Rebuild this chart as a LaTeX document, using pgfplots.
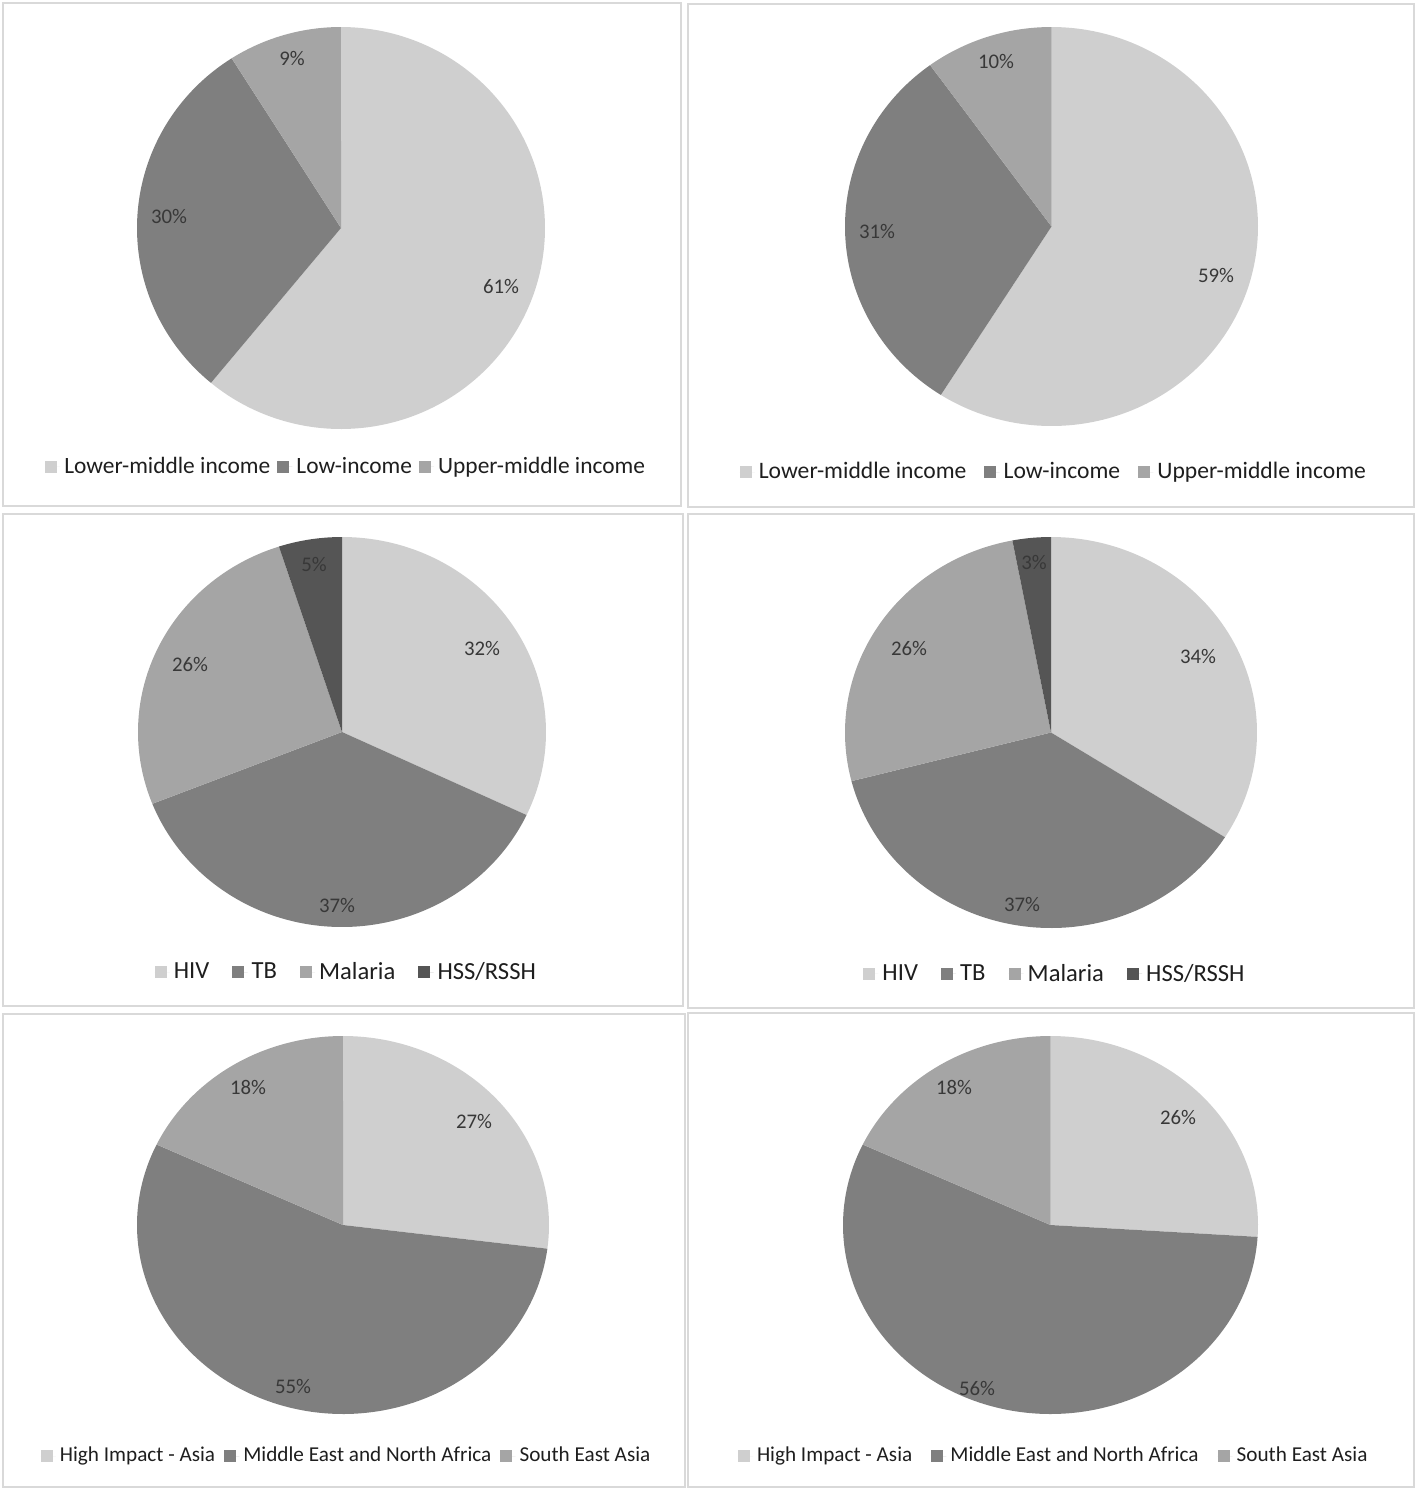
\documentclass[border=0pt]{standalone}
\usepackage{pgfplots}
\pgfplotsset{compat=1.18}
\usepackage{fontspec}
\setmainfont{Carlito}
\definecolor{cA}{HTML}{CFCFCF}
\definecolor{cB}{HTML}{7F7F7F}
\definecolor{cC}{HTML}{A5A5A5}
\definecolor{cD}{HTML}{555555}
\definecolor{lbl}{HTML}{383838}
\definecolor{legtxt}{HTML}{1E1E1E}
\definecolor{frm}{HTML}{D9D9D9}
\pgfplotsset{
  pie/.style 2 args={hide axis, xmin=-1, xmax=1, ymin=-1, ymax=1, anchor=origin, clip=false,
    legend columns=-1,
    legend style={draw=none, fill=none, font=\fontsize{#2}{14}\selectfont, text=legtxt, anchor=center,
      /tikz/every even column/.append style={column sep=#1}},
    legend image code/.code={\fill[##1] (0pt,-3pt) rectangle (6pt,3pt); \path (0pt,0pt) -- (7.6pt,0pt);},
  },
  wedge/.style={fill=#1, draw=none, samples=150},
}
\begin{document}
\begin{tikzpicture}
\begin{scope}[x=0.5pt, y=-0.5pt]
  \path (0,0) rectangle (1418,1490);
  \begin{scope}[frm, line width=1.1pt]
    \draw (3,3) rectangle (681,506);
    \draw (688,4) rectangle (1414,507);
    \draw (3,514) rectangle (683,1006);
    \draw (688,514) rectangle (1414,1008);
    \draw (3,1014) rectangle (685,1487);
    \draw (688,1013) rectangle (1414,1487);
  \end{scope}
\end{scope}

% Pie 1
\begin{axis}[pie={1.5pt}{11.7}, at={(341*0.5pt,-228*0.5pt)}, x=102pt, y=100.5pt,
  legend style={at={(axis description cs:0.515,-0.0945)}}]
  \addplot[wedge=cA, domain=90:-129.6] ({cos(x)},{sin(x)}) -- (axis cs:0,0) -- cycle;
  \addlegendentry{Lower-middle income}
  \addplot[wedge=cB, domain=-129.6:-237.6] ({cos(x)},{sin(x)}) -- (axis cs:0,0) -- cycle;
  \addlegendentry{Low-income}
  \addplot[wedge=cC, domain=-237.6:-270] ({cos(x)},{sin(x)}) -- (axis cs:0,0) -- cycle;
  \addlegendentry{Upper-middle income}
\end{axis}

% Pie 2
\begin{axis}[pie={7pt}{11.8}, at={(1051.5*0.5pt,-226.5*0.5pt)}, x=103.25pt, y=99.75pt,
  legend style={at={(axis description cs:0.508,-0.1153)}}]
  \addplot[wedge=cA, domain=90:-122.4] ({cos(x)},{sin(x)}) -- (axis cs:0,0) -- cycle;
  \addlegendentry{Lower-middle income}
  \addplot[wedge=cB, domain=-122.4:-234] ({cos(x)},{sin(x)}) -- (axis cs:0,0) -- cycle;
  \addlegendentry{Low-income}
  \addplot[wedge=cC, domain=-234:-270] ({cos(x)},{sin(x)}) -- (axis cs:0,0) -- cycle;
  \addlegendentry{Upper-middle income}
\end{axis}

% Pie 3
\begin{axis}[pie={9.5pt}{12.3}, at={(342*0.5pt,-732*0.5pt)}, x=102pt, y=97.5pt,
  legend style={at={(axis description cs:0.513,-0.1154)}}]
  \addplot[wedge=cA, domain=90:-25.2] ({cos(x)},{sin(x)}) -- (axis cs:0,0) -- cycle;
  \addlegendentry{HIV}
  \addplot[wedge=cB, domain=-25.2:-158.4] ({cos(x)},{sin(x)}) -- (axis cs:0,0) -- cycle;
  \addlegendentry{TB}
  \addplot[wedge=cC, domain=-158.4:-252] ({cos(x)},{sin(x)}) -- (axis cs:0,0) -- cycle;
  \addlegendentry{Malaria}
  \addplot[wedge=cD, domain=-252:-270] ({cos(x)},{sin(x)}) -- (axis cs:0,0) -- cycle;
  \addlegendentry{HSS/RSSH}
\end{axis}

% Pie 4
\begin{axis}[pie={9.5pt}{12.3}, at={(1051*0.5pt,-732.5*0.5pt)}, x=103pt, y=97.75pt,
  legend style={at={(axis description cs:0.512,-0.1176)}}]
  \addplot[wedge=cA, domain=90:-32.4] ({cos(x)},{sin(x)}) -- (axis cs:0,0) -- cycle;
  \addlegendentry{HIV}
  \addplot[wedge=cB, domain=-32.4:-165.6] ({cos(x)},{sin(x)}) -- (axis cs:0,0) -- cycle;
  \addlegendentry{TB}
  \addplot[wedge=cC, domain=-165.6:-259.2] ({cos(x)},{sin(x)}) -- (axis cs:0,0) -- cycle;
  \addlegendentry{Malaria}
  \addplot[wedge=cD, domain=-259.2:-270] ({cos(x)},{sin(x)}) -- (axis cs:0,0) -- cycle;
  \addlegendentry{HSS/RSSH}
\end{axis}

% Pie 5
\begin{axis}[pie={2.5pt}{10.6}, at={(343*0.5pt,-1225*0.5pt)}, x=103pt, y=94.5pt,
  legend style={at={(axis description cs:0.511,-0.1111)}}]
  \addplot[wedge=cA, domain=90:-7.2] ({cos(x)},{sin(x)}) -- (axis cs:0,0) -- cycle;
  \addlegendentry{High Impact - Asia}
  \addplot[wedge=cB, domain=-7.2:-205.2] ({cos(x)},{sin(x)}) -- (axis cs:0,0) -- cycle;
  \addlegendentry{Middle East and North Africa}
  \addplot[wedge=cC, domain=-205.2:-270] ({cos(x)},{sin(x)}) -- (axis cs:0,0) -- cycle;
  \addlegendentry{South East Asia}
\end{axis}

% Pie 6
\begin{axis}[pie={7.5pt}{10.6}, at={(1050.5*0.5pt,-1225*0.5pt)}, x=103.75pt, y=94.5pt,
  legend style={at={(axis description cs:0.510,-0.1111)}}]
  \addplot[wedge=cA, domain=90:-3.6] ({cos(x)},{sin(x)}) -- (axis cs:0,0) -- cycle;
  \addlegendentry{High Impact - Asia}
  \addplot[wedge=cB, domain=-3.6:-205.2] ({cos(x)},{sin(x)}) -- (axis cs:0,0) -- cycle;
  \addlegendentry{Middle East and North Africa}
  \addplot[wedge=cC, domain=-205.2:-270] ({cos(x)},{sin(x)}) -- (axis cs:0,0) -- cycle;
  \addlegendentry{South East Asia}
\end{axis}

\begin{scope}[x=0.5pt, y=-0.5pt, every node/.style={text=lbl, font=\fontsize{10.4}{12}\selectfont}]
  \node at (292,58) {9\%};
  \node at (169,216) {30\%};
  \node at (501,286) {61\%};
  \node at (996,61) {10\%};
  \node at (877,231) {31\%};
  \node at (1216,275) {59\%};
  \node at (314,564) {5\%};
  \node at (482,648) {32\%};
  \node at (190,664) {26\%};
  \node at (337,905) {37\%};
  \node at (1034,562) {3\%};
  \node at (1198,656) {34\%};
  \node at (909,648) {26\%};
  \node at (1022,904) {37\%};
  \node at (248,1087) {18\%};
  \node at (474,1121) {27\%};
  \node at (293,1386) {55\%};
  \node at (954,1087) {18\%};
  \node at (1178,1117) {26\%};
  \node at (977,1388) {56\%};
\end{scope}
\end{tikzpicture}
\end{document}
